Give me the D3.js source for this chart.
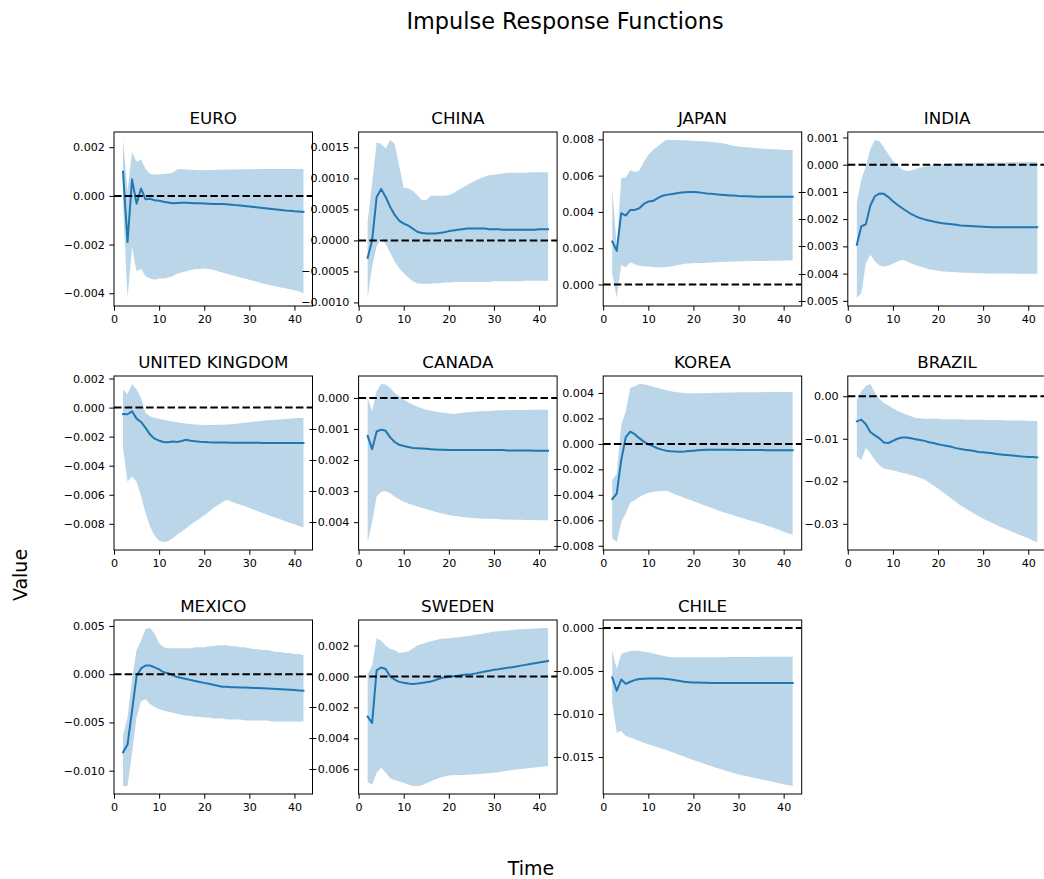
<!DOCTYPE html>
<html>
<head>
<meta charset="utf-8">
<script src="https://cdn.jsdelivr.net/npm/d3@7"></script>
<style>
  body { margin: 0; background: #fff; }
  svg { display: block; }
  text { font-family: "DejaVu Sans", sans-serif; fill: #000; }
</style>
</head>
<body>
<svg id="chart" width="1044" height="879"></svg>
<script>
// ---------------- DATA ----------------
const countries = ["EURO", "CHINA", "JAPAN", "INDIA", "UNITED KINGDOM", "CANADA", "KOREA", "BRAZIL", "MEXICO", "SWEDEN", "CHILE"];
const periods = d3.range(2, 43); // horizons 2..42
const xTickValues = [0, 10, 20, 30, 40];

const irfEURO = [0.00099,-0.0019,0.00068,-0.00032,0.0003,-0.00014,-0.00012,-0.00018,-0.0002,-0.00024,-0.00027,-0.0003,-0.00029,-0.00028,-0.00028,-0.00029,-0.0003,-0.0003,-0.00031,-0.00032,-0.00033,-0.00033,-0.00033,-0.00034,-0.00036,-0.00038,-0.0004,-0.00042,-0.00044,-0.00046,-0.00048,-0.0005,-0.00052,-0.00054,-0.00056,-0.00058,-0.0006,-0.00061,-0.00063,-0.00064,-0.00066];
const upEURO = [0.0023,0.0002,0.0018,0.0014,0.0015,0.0011,0.0009,0.00088,0.00089,0.0009,0.00092,0.00095,0.00108,0.0011,0.00108,0.00107,0.00106,0.00105,0.00105,0.00106,0.00106,0.00107,0.00107,0.00108,0.00108,0.00108,0.00109,0.00109,0.00109,0.00109,0.0011,0.0011,0.0011,0.0011,0.0011,0.0011,0.0011,0.0011,0.0011,0.0011,0.0011];
const loEURO = [-0.0004,-0.0042,-0.0021,-0.0031,-0.003,-0.0033,-0.0034,-0.00345,-0.0034,-0.0034,-0.00335,-0.0033,-0.0032,-0.00315,-0.0031,-0.00305,-0.003,-0.003,-0.00298,-0.003,-0.00305,-0.0031,-0.00315,-0.0032,-0.00325,-0.0033,-0.00335,-0.0034,-0.00345,-0.0035,-0.00355,-0.0036,-0.00364,-0.00368,-0.00372,-0.00376,-0.0038,-0.00384,-0.00388,-0.00392,-0.004];

const irfCHINA = [-0.00028,0.0,0.0007,0.00083,0.0007,0.00054,0.00041,0.00032,0.00027,0.00024,0.00019,0.00014,0.00012,0.00011,0.00011,0.00011,0.00012,0.00013,0.00015,0.00016,0.00017,0.00018,0.00019,0.00019,0.00019,0.00019,0.00019,0.00018,0.00018,0.00018,0.00017,0.00017,0.00017,0.00017,0.00017,0.00017,0.00017,0.00017,0.00018,0.00018,0.00018];
const upCHINA = [0.0003,0.00092,0.00158,0.00156,0.00148,0.00162,0.00156,0.0012,0.00085,0.00084,0.0008,0.00073,0.00065,0.00065,0.00072,0.00072,0.00072,0.00072,0.00073,0.00076,0.00081,0.00085,0.00089,0.00093,0.00097,0.001,0.00103,0.00105,0.00106,0.00107,0.00108,0.00109,0.00109,0.00109,0.00109,0.00109,0.0011,0.0011,0.0011,0.0011,0.0011];
const loCHINA = [-0.00093,-0.00042,-0.0001,0.00004,-0.00006,-0.0002,-0.00034,-0.00045,-0.00053,-0.0006,-0.00066,-0.00069,-0.0007,-0.0007,-0.0007,-0.00069,-0.00069,-0.00068,-0.00068,-0.00067,-0.00067,-0.00067,-0.00067,-0.00067,-0.00067,-0.00067,-0.00067,-0.00067,-0.00066,-0.00066,-0.00066,-0.00066,-0.00066,-0.00066,-0.00066,-0.00065,-0.00065,-0.00065,-0.00065,-0.00065,-0.00065];

const irfJAPAN = [0.00237,0.00185,0.00393,0.0038,0.00411,0.00411,0.0042,0.00444,0.00457,0.0046,0.00475,0.00488,0.00494,0.00498,0.00502,0.00506,0.00509,0.0051,0.0051,0.00508,0.00505,0.00502,0.005,0.00497,0.00495,0.00493,0.00491,0.0049,0.00488,0.00487,0.00486,0.00485,0.00484,0.00483,0.00483,0.00483,0.00483,0.00483,0.00483,0.00483,0.00483];
const upJAPAN = [0.0053,0.0021,0.00585,0.0059,0.0063,0.0062,0.00627,0.00677,0.00714,0.0074,0.0076,0.0078,0.00796,0.00797,0.00796,0.00795,0.00795,0.00794,0.00793,0.00791,0.0079,0.00788,0.00786,0.00783,0.0078,0.00776,0.00771,0.00765,0.0076,0.00758,0.00756,0.00754,0.00751,0.00749,0.00748,0.00747,0.00746,0.00744,0.00743,0.00742,0.00741];
const loJAPAN = [0.0006,-0.00075,0.00108,0.00095,0.00123,0.00112,0.00103,0.001,0.00099,0.00097,0.00095,0.00094,0.00096,0.00099,0.00104,0.00109,0.00114,0.00116,0.00117,0.00118,0.00119,0.0012,0.00121,0.00123,0.00124,0.00125,0.00126,0.00127,0.00128,0.00128,0.00129,0.00129,0.0013,0.0013,0.0013,0.00131,0.00131,0.00131,0.00132,0.00132,0.00132];

const irfINDIA = [-0.00294,-0.00226,-0.00219,-0.0015,-0.00116,-0.00106,-0.00107,-0.00119,-0.00134,-0.00147,-0.00159,-0.0017,-0.00181,-0.00189,-0.00196,-0.00201,-0.00205,-0.00209,-0.00212,-0.00215,-0.00217,-0.00219,-0.00221,-0.00223,-0.00224,-0.00225,-0.00226,-0.00227,-0.00228,-0.00229,-0.0023,-0.0023,-0.0023,-0.0023,-0.0023,-0.0023,-0.0023,-0.0023,-0.0023,-0.0023,-0.0023];
const upINDIA = [-0.0014,-0.00054,-0.00005,0.00057,0.00091,0.00087,0.00063,0.00038,0.00014,-0.00002,-0.00017,-0.00023,-0.00021,-0.00016,-0.00011,-0.00007,-0.00005,-0.00002,0.00001,0.00002,0.00003,0.00004,0.00005,0.00005,0.00006,0.00006,0.00006,0.00007,0.00007,0.00007,0.00008,0.00008,0.00008,0.00008,0.00009,0.00009,0.00009,0.00009,0.0001,0.0001,0.0001];
const loINDIA = [-0.0049,-0.00472,-0.00362,-0.00331,-0.00355,-0.0037,-0.00374,-0.00371,-0.00364,-0.00356,-0.00349,-0.00355,-0.00362,-0.00368,-0.00374,-0.00379,-0.00384,-0.00387,-0.0039,-0.00392,-0.00393,-0.00394,-0.00395,-0.00396,-0.00397,-0.00397,-0.00398,-0.00398,-0.00399,-0.004,-0.004,-0.004,-0.004,-0.004,-0.004,-0.00401,-0.00401,-0.00401,-0.00401,-0.00401,-0.00401];

const irfUK = [-0.00044,-0.00046,-0.00025,-0.00076,-0.00099,-0.0014,-0.00186,-0.00214,-0.00228,-0.00237,-0.00239,-0.00234,-0.00237,-0.0023,-0.00221,-0.00228,-0.00232,-0.00235,-0.00237,-0.00239,-0.0024,-0.00241,-0.00241,-0.00241,-0.00242,-0.00242,-0.00242,-0.00242,-0.00242,-0.00242,-0.00242,-0.00243,-0.00243,-0.00243,-0.00243,-0.00243,-0.00243,-0.00244,-0.00244,-0.00244,-0.00244];
const upUK = [0.00124,0.00094,0.00163,0.00124,0.00067,-0.00037,-0.0006,-0.0007,-0.00076,-0.00083,-0.0009,-0.00096,-0.00101,-0.00106,-0.0011,-0.00114,-0.00117,-0.00119,-0.0012,-0.0012,-0.0012,-0.00119,-0.00118,-0.00117,-0.00114,-0.00111,-0.00108,-0.00105,-0.00101,-0.00098,-0.00094,-0.00091,-0.00088,-0.00085,-0.00083,-0.0008,-0.00078,-0.00076,-0.00074,-0.00072,-0.00071];
const loUK = [-0.00278,-0.00508,-0.00474,-0.00508,-0.00611,-0.00726,-0.00818,-0.0088,-0.00917,-0.00926,-0.00922,-0.00899,-0.00876,-0.00853,-0.0083,-0.00807,-0.00784,-0.00763,-0.00743,-0.00717,-0.00692,-0.00672,-0.00652,-0.00634,-0.00646,-0.00658,-0.00669,-0.0068,-0.00692,-0.00703,-0.00715,-0.00726,-0.00738,-0.00749,-0.0076,-0.00771,-0.00782,-0.00793,-0.00804,-0.00815,-0.00825];

const irfCANADA = [-0.00122,-0.00165,-0.00108,-0.00102,-0.00106,-0.00127,-0.00142,-0.00151,-0.00155,-0.00158,-0.00161,-0.00162,-0.00163,-0.00164,-0.00165,-0.00166,-0.00167,-0.00167,-0.00168,-0.00168,-0.00168,-0.00168,-0.00168,-0.00168,-0.00168,-0.00168,-0.00168,-0.00168,-0.00168,-0.00168,-0.00168,-0.00169,-0.00169,-0.00169,-0.00169,-0.00169,-0.00169,-0.0017,-0.0017,-0.0017,-0.0017];
const upCANADA = [0.0,-0.00043,0.00022,0.00045,0.00043,0.00032,0.00016,0.00005,-0.00005,-0.00014,-0.00022,-0.00028,-0.00033,-0.00038,-0.00041,-0.00044,-0.00046,-0.00048,-0.0005,-0.00052,-0.0005,-0.00048,-0.00046,-0.00045,-0.00044,-0.00043,-0.00042,-0.00042,-0.00041,-0.0004,-0.0004,-0.0004,-0.00039,-0.00039,-0.00039,-0.00039,-0.00038,-0.00038,-0.00038,-0.00038,-0.00038];
const loCANADA = [-0.00464,-0.00399,-0.00318,-0.00302,-0.003,-0.00307,-0.00318,-0.00326,-0.00334,-0.0034,-0.00345,-0.00349,-0.00354,-0.00358,-0.00362,-0.00366,-0.0037,-0.00374,-0.00377,-0.00379,-0.00381,-0.00383,-0.00385,-0.00386,-0.00387,-0.00388,-0.00389,-0.00389,-0.0039,-0.0039,-0.00391,-0.00391,-0.00392,-0.00392,-0.00392,-0.00393,-0.00393,-0.00393,-0.00394,-0.00394,-0.00394];

const irfKOREA = [-0.00434,-0.0039,-0.00126,0.00053,0.00097,0.00076,0.00045,0.00018,-0.00003,-0.00018,-0.00034,-0.00045,-0.00053,-0.00057,-0.0006,-0.00061,-0.00059,-0.00056,-0.00053,-0.0005,-0.00047,-0.00046,-0.00045,-0.00045,-0.00045,-0.00045,-0.00046,-0.00046,-0.00047,-0.00047,-0.00047,-0.00048,-0.00048,-0.00048,-0.00049,-0.00049,-0.00049,-0.00049,-0.0005,-0.0005,-0.0005];
const upKOREA = [-0.00284,-0.00232,0.0015,0.00255,0.0044,0.00453,0.00471,0.00468,0.00461,0.00451,0.0044,0.00431,0.00422,0.00413,0.00407,0.00403,0.004,0.00398,0.00397,0.00397,0.00398,0.00399,0.004,0.00401,0.00402,0.00403,0.00404,0.00404,0.00405,0.00405,0.00405,0.00406,0.00406,0.00406,0.00407,0.00407,0.00407,0.00407,0.00408,0.00408,0.00408];
const loKOREA = [-0.0074,-0.00771,-0.00613,-0.00547,-0.00461,-0.00442,-0.00416,-0.004,-0.00384,-0.00377,-0.00371,-0.00369,-0.00368,-0.00382,-0.00397,-0.0041,-0.00424,-0.00437,-0.0045,-0.00463,-0.00477,-0.0049,-0.00503,-0.00516,-0.00528,-0.0054,-0.00551,-0.00562,-0.00574,-0.00584,-0.00595,-0.00605,-0.00615,-0.00626,-0.00638,-0.0065,-0.00663,-0.00676,-0.00689,-0.00701,-0.00713];

const irfBRAZIL = [-0.0059,-0.0055,-0.0066,-0.0084,-0.0092,-0.0099,-0.0109,-0.011,-0.0105,-0.01,-0.0097,-0.0097,-0.0099,-0.0101,-0.0103,-0.0105,-0.0108,-0.011,-0.0113,-0.0115,-0.0117,-0.0119,-0.0122,-0.0124,-0.0126,-0.0127,-0.0129,-0.0131,-0.0132,-0.0133,-0.0134,-0.0136,-0.0137,-0.0138,-0.0139,-0.014,-0.0141,-0.0142,-0.0143,-0.0143,-0.0144];
const upBRAZIL = [-0.0008,0.0012,0.0024,0.0029,0.0008,-0.0006,-0.0016,-0.0022,-0.0028,-0.0034,-0.0039,-0.0043,-0.0047,-0.0051,-0.0052,-0.0053,-0.0053,-0.0053,-0.0053,-0.0054,-0.0054,-0.0054,-0.0054,-0.0054,-0.0055,-0.0055,-0.0055,-0.0055,-0.0055,-0.0056,-0.0056,-0.0056,-0.0056,-0.0057,-0.0057,-0.0057,-0.0057,-0.0057,-0.0058,-0.0058,-0.0058];
const loBRAZIL = [-0.0142,-0.015,-0.0122,-0.0134,-0.015,-0.0162,-0.017,-0.0172,-0.0174,-0.0177,-0.018,-0.0182,-0.0185,-0.0188,-0.0192,-0.0196,-0.0203,-0.021,-0.0217,-0.0225,-0.0233,-0.0241,-0.0249,-0.0257,-0.0263,-0.027,-0.0276,-0.0282,-0.0288,-0.0293,-0.0298,-0.0303,-0.0308,-0.0312,-0.0317,-0.0321,-0.0326,-0.033,-0.0334,-0.0339,-0.0343];

const irfMEXICO = [-0.0081,-0.0073,-0.0038,-0.0002,0.0006,0.0009,0.0009,0.0007,0.0005,0.0002,0.0001,-0.0001,-0.0003,-0.0004,-0.0005,-0.0006,-0.0007,-0.0008,-0.0009,-0.001,-0.0011,-0.0012,-0.0013,-0.0013,-0.00135,-0.00136,-0.00137,-0.00138,-0.0014,-0.00142,-0.00144,-0.00146,-0.00148,-0.0015,-0.00153,-0.00156,-0.00159,-0.00162,-0.00165,-0.00168,-0.0017];
const upMEXICO = [-0.0063,-0.0045,-0.0005,0.0025,0.0035,0.0047,0.0048,0.0042,0.0032,0.0028,0.0027,0.0027,0.0027,0.0027,0.0027,0.0027,0.0028,0.0028,0.0028,0.0029,0.0029,0.003,0.003,0.003,0.0029,0.0029,0.0028,0.0028,0.0027,0.0026,0.0026,0.0025,0.0025,0.0024,0.0023,0.0023,0.0022,0.0022,0.0021,0.0021,0.002];
const loMEXICO = [-0.0116,-0.0116,-0.0082,-0.0045,-0.0028,-0.0026,-0.0031,-0.0034,-0.0036,-0.0038,-0.0039,-0.004,-0.0041,-0.0042,-0.0043,-0.0043,-0.0044,-0.0044,-0.0045,-0.0045,-0.0046,-0.0046,-0.0046,-0.0047,-0.0047,-0.0047,-0.0047,-0.0048,-0.0048,-0.0048,-0.0048,-0.0048,-0.0048,-0.0049,-0.0049,-0.0049,-0.0049,-0.0049,-0.0049,-0.0049,-0.0049];

const irfSWEDEN = [-0.0026,-0.003,0.0004,0.00058,0.00048,0.0,-0.0002,-0.00035,-0.0004,-0.00045,-0.00048,-0.00046,-0.00043,-0.00038,-0.00032,-0.00024,-0.00013,-0.00006,-0.00002,0.00002,0.00005,0.00009,0.00012,0.00015,0.0002,0.00026,0.00032,0.00037,0.00043,0.00047,0.00052,0.00056,0.0006,0.00065,0.0007,0.00075,0.0008,0.00085,0.0009,0.00095,0.001];
const upSWEDEN = [0.00015,0.0007,0.00247,0.00231,0.002,0.00177,0.00171,0.00151,0.00156,0.00162,0.00181,0.002,0.0021,0.0022,0.00228,0.00235,0.00242,0.00245,0.00247,0.0025,0.00254,0.00257,0.0026,0.00264,0.00269,0.00274,0.0028,0.00285,0.0029,0.00293,0.00295,0.00298,0.003,0.00303,0.00305,0.00307,0.00308,0.0031,0.00311,0.00313,0.00314];
const loSWEDEN = [-0.00683,-0.00698,-0.00623,-0.0059,-0.00623,-0.00659,-0.0067,-0.00679,-0.00688,-0.00699,-0.00709,-0.00708,-0.00705,-0.00691,-0.00677,-0.00666,-0.00655,-0.00647,-0.0064,-0.00639,-0.00638,-0.00637,-0.00635,-0.00634,-0.00633,-0.0063,-0.00628,-0.00626,-0.00623,-0.00619,-0.00614,-0.0061,-0.00605,-0.00601,-0.00598,-0.00595,-0.00592,-0.00589,-0.00586,-0.00583,-0.0058];

const irfCHILE = [-0.00575,-0.0073,-0.006,-0.0065,-0.00626,-0.00606,-0.00594,-0.0059,-0.00587,-0.00587,-0.00587,-0.00587,-0.00593,-0.006,-0.00609,-0.00617,-0.00626,-0.0063,-0.00633,-0.00635,-0.00637,-0.00638,-0.0064,-0.00641,-0.00641,-0.00641,-0.00641,-0.00641,-0.00641,-0.00641,-0.00641,-0.00641,-0.00641,-0.00641,-0.00641,-0.00641,-0.00641,-0.00641,-0.00641,-0.00641,-0.00641];
const upCHILE = [-0.00264,-0.00478,-0.00303,-0.00284,-0.00268,-0.00266,-0.00268,-0.00276,-0.00284,-0.00297,-0.0031,-0.00322,-0.00332,-0.00342,-0.00342,-0.00342,-0.00342,-0.00342,-0.00342,-0.00342,-0.00341,-0.00341,-0.0034,-0.0034,-0.0034,-0.00339,-0.00339,-0.00338,-0.00338,-0.00338,-0.00337,-0.00337,-0.00337,-0.00336,-0.00336,-0.00336,-0.00335,-0.00335,-0.00335,-0.00334,-0.00334];
const loCHILE = [-0.00866,-0.01216,-0.01197,-0.01255,-0.01274,-0.01294,-0.01313,-0.01333,-0.01352,-0.01369,-0.01386,-0.01403,-0.0142,-0.01438,-0.01457,-0.01477,-0.01496,-0.01516,-0.01535,-0.01553,-0.01571,-0.01589,-0.01606,-0.01624,-0.0164,-0.01656,-0.01671,-0.01687,-0.01702,-0.01714,-0.01725,-0.01737,-0.01748,-0.0176,-0.01771,-0.01782,-0.01794,-0.01805,-0.01816,-0.01827,-0.01838];

// y tick labels per panel (as printed)
const ticksEURO   = ["−0.004", "−0.002", "0.000", "0.002"];
const ticksCHINA  = ["−0.0010", "−0.0005", "0.0000", "0.0005", "0.0010", "0.0015"];
const ticksJAPAN  = ["0.000", "0.002", "0.004", "0.006", "0.008"];
const ticksINDIA  = ["−0.005", "−0.004", "−0.003", "−0.002", "−0.001", "0.000", "0.001"];
const ticksUK     = ["−0.008", "−0.006", "−0.004", "−0.002", "0.000", "0.002"];
const ticksCANADA = ["−0.004", "−0.003", "−0.002", "−0.001", "0.000"];
const ticksKOREA  = ["−0.008", "−0.006", "−0.004", "−0.002", "0.000", "0.002", "0.004"];
const ticksBRAZIL = ["−0.03", "−0.02", "−0.01", "0.00"];
const ticksMEXICO = ["−0.010", "−0.005", "0.000", "0.005"];
const ticksSWEDEN = ["−0.006", "−0.004", "−0.002", "0.000", "0.002"];
const ticksCHILE  = ["−0.015", "−0.010", "−0.005", "0.000"];

const irfs   = [irfEURO, irfCHINA, irfJAPAN, irfINDIA, irfUK, irfCANADA, irfKOREA, irfBRAZIL, irfMEXICO, irfSWEDEN, irfCHILE];
const uppers = [upEURO, upCHINA, upJAPAN, upINDIA, upUK, upCANADA, upKOREA, upBRAZIL, upMEXICO, upSWEDEN, upCHILE];
const lowers = [loEURO, loCHINA, loJAPAN, loINDIA, loUK, loCANADA, loKOREA, loBRAZIL, loMEXICO, loSWEDEN, loCHILE];
const tickLabels = [ticksEURO, ticksCHINA, ticksJAPAN, ticksINDIA, ticksUK, ticksCANADA, ticksKOREA, ticksBRAZIL, ticksMEXICO, ticksSWEDEN, ticksCHILE];

// ---------------- LAYOUT ----------------
const svg = d3.select("#chart");
const left0 = 114, colStep = 244.6, top0 = 132, rowStep = 244;
const pw = 198.5, ph = 174;
const lineColor = "#1f77b4";
const tickFont = 11.1;

const parseTick = s => +s.replace("−", "-");

countries.forEach((name, i) => {
  const col = i % 4, row = Math.floor(i / 4);
  const ox = left0 + col * colStep, oy = top0 + row * rowStep;
  const g = svg.append("g").attr("transform", `translate(${ox},${oy})`);

  const xMin = d3.min(periods), xMax = d3.max(periods);
  const xPad = (xMax - xMin) * 0.05;
  const x = d3.scaleLinear().domain([xMin - xPad, xMax + xPad]).range([0, pw]);

  const all = [...irfs[i], ...uppers[i], ...lowers[i], 0];
  const yLo = d3.min(all), yHi = d3.max(all);
  const yPad = (yHi - yLo) * 0.05;
  const y = d3.scaleLinear().domain([yLo - yPad, yHi + yPad]).range([ph, 0]);

  const clipId = "clip" + i;
  g.append("clipPath").attr("id", clipId).append("rect").attr("width", pw).attr("height", ph);
  const plot = g.append("g").attr("clip-path", `url(#${clipId})`);

  const rows = periods.map((p, k) => ({ p, v: irfs[i][k], lo: lowers[i][k], hi: uppers[i][k] }));

  plot.append("path")
    .datum(rows)
    .attr("d", d3.area().x(d => x(d.p)).y0(d => y(d.lo)).y1(d => y(d.hi)))
    .attr("fill", lineColor)
    .attr("fill-opacity", 0.3);

  plot.append("path")
    .datum(rows)
    .attr("d", d3.line().x(d => x(d.p)).y(d => y(d.v)))
    .attr("fill", "none")
    .attr("stroke", lineColor)
    .attr("stroke-width", 2)
    .attr("stroke-linejoin", "round")
    .attr("stroke-linecap", "square");

  plot.append("line")
    .attr("x1", 0).attr("x2", pw)
    .attr("y1", y(0)).attr("y2", y(0))
    .attr("stroke", "#000")
    .attr("stroke-width", 2)
    .attr("stroke-dasharray", "7.5,3.2");

  // axes
  const labels = tickLabels[i];
  const yAxis = d3.axisLeft(y)
    .tickValues(labels.map(parseTick))
    .tickFormat((d, k) => labels[k])
    .tickSize(4.7).tickSizeOuter(0).tickPadding(4.5);
  const ya = g.append("g").call(yAxis);
  ya.select(".domain").remove();
  ya.selectAll("line").attr("stroke", "#000").attr("stroke-width", 1);
  ya.selectAll("text").attr("font-size", tickFont).attr("font-family", "DejaVu Sans").attr("fill", "#000");

  const xAxis = d3.axisBottom(x).tickValues(xTickValues).tickFormat(d3.format("d"))
    .tickSize(4.7).tickSizeOuter(0).tickPadding(4.5);
  const xa = g.append("g").attr("transform", `translate(0,${ph})`).call(xAxis);
  xa.select(".domain").remove();
  xa.selectAll("line").attr("stroke", "#000").attr("stroke-width", 1);
  xa.selectAll("text").attr("font-size", tickFont).attr("font-family", "DejaVu Sans").attr("fill", "#000");

  g.append("rect")
    .attr("width", pw).attr("height", ph)
    .attr("fill", "none").attr("stroke", "#000").attr("stroke-width", 1);

  g.append("text")
    .attr("x", pw / 2).attr("y", -8)
    .attr("text-anchor", "middle")
    .attr("font-size", 16.7)
    .text(name);
});

svg.append("text")
  .attr("x", 565).attr("y", 29)
  .attr("text-anchor", "middle")
  .attr("font-size", 22.4)
  .text("Impulse Response Functions");

svg.append("text")
  .attr("x", 531).attr("y", 875)
  .attr("text-anchor", "middle")
  .attr("font-size", 19)
  .text("Time");

svg.append("text")
  .attr("transform", "translate(27,575) rotate(-90)")
  .attr("text-anchor", "middle")
  .attr("font-size", 19)
  .text("Value");
</script>
</body>
</html>
